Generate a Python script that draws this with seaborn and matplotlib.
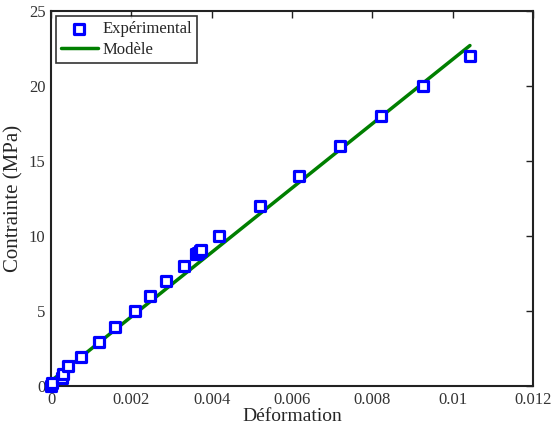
import numpy as np
import pandas as pd
import matplotlib
matplotlib.use('Agg')
import matplotlib.pyplot as plt
import seaborn as sns

# Experimental points (strain, stress in MPa)
exp_strain = [0.0, 0.00003, 0.00027, 0.00029, 0.00042, 0.00075, 0.00119, 0.00159,
              0.00209, 0.00246, 0.00286, 0.00331, 0.00362, 0.00366, 0.00370,
              0.00373, 0.00418, 0.0052, 0.00617, 0.00719, 0.00822, 0.00926, 0.01043]
exp_stress = [0.0, 0.2, 0.5, 0.8, 1.3, 1.95, 2.95, 3.95,
              5.0, 6.0, 7.0, 8.0, 8.8, 8.9, 9.0,
              9.05, 10.0, 12.0, 14.0, 16.0, 18.0, 20.0, 22.0]

# Model line
model_strain = [0.0, 0.01043]
model_stress = [0.33, 22.7]

x_ticks = [0, 0.002, 0.004, 0.006, 0.008, 0.01, 0.012]
x_labels = ['0', '0.002', '0.004', '0.006', '0.008', '0.01', '0.012']
y_ticks = [0, 5, 10, 15, 20, 25]

exp_df = pd.DataFrame({'strain': exp_strain, 'stress': exp_stress})
model_df = pd.DataFrame({'strain': model_strain, 'stress': model_stress})

sns.set_style('white')
plt.rcParams['font.family'] = ['Liberation Serif', 'DejaVu Serif']

fig = plt.figure(figsize=(5.52, 4.32), dpi=100)
ax = fig.add_axes([0.0924, 0.1065, 0.8732, 0.868])

sns.scatterplot(data=exp_df, x='strain', y='stress', ax=ax, marker='s', s=42,
                facecolor='white', edgecolor='#0000ff', linewidth=2.3,
                label='Expérimental', zorder=3, clip_on=False)
sns.lineplot(data=model_df, x='strain', y='stress', ax=ax, color='#007f00',
             linewidth=2.5, label='Modèle', zorder=2)

ax.set_xlim(0, 0.012)
ax.set_ylim(0, 25)
ax.set_xticks(x_ticks)
ax.set_xticklabels(x_labels)
ax.set_yticks(y_ticks)
ax.tick_params(direction='in', top=True, right=True, length=5, width=1,
               labelsize=12, colors='#222222', labelcolor='#333333', pad=4)
for sp in ax.spines.values():
    sp.set_visible(True)
    sp.set_color('#222222')
    sp.set_linewidth(1.5)

ax.set_xlabel('Déformation', fontsize=14, labelpad=0)
ax.set_ylabel('Contrainte (MPa)', fontsize=15, labelpad=4)

leg = ax.legend(loc='upper left', fontsize=12, frameon=True, fancybox=False,
                edgecolor='black', borderaxespad=0.3, handlelength=2.2,
                handletextpad=0.3, borderpad=0.3, labelspacing=0.3)
leg.get_frame().set_linewidth(1.2)

fig.savefig('out.png', dpi=100)
